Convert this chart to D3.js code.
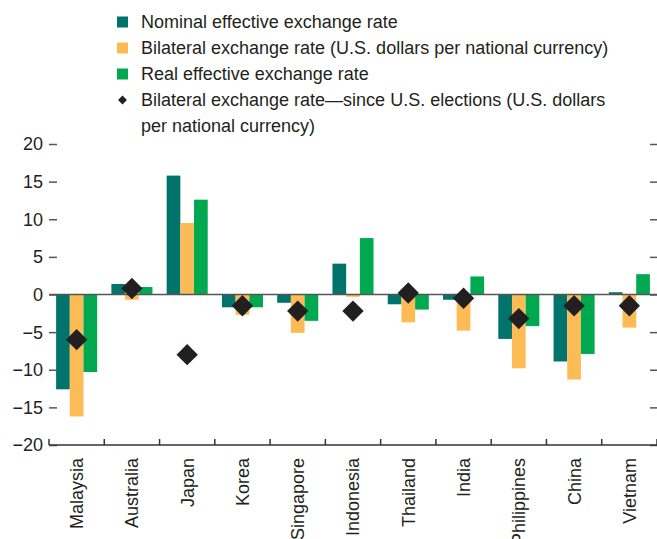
<!DOCTYPE html>
<html>
<head>
<meta charset="utf-8">
<script src="https://cdn.jsdelivr.net/npm/d3@7"></script>
<style>
  body { margin: 0; background: #fff; }
  svg { display: block; }
  text { font-family: "Liberation Sans Narrow", "Arial Narrow", "Liberation Sans", sans-serif; fill: #231f20; }
</style>
</head>
<body>
<div id="chart"></div>
<script>
// data (percent change)
let countries = ["Malaysia", "Australia", "Japan", "Korea", "Singapore", "Indonesia",
    "Thailand", "India", "Philippines", "China", "Vietnam"];
let nominal = [-12.6, 1.4, 15.8, -1.7, -1.1, 4.1, -1.3, -0.7, -5.9, -8.9, 0.3];
let bilateral = [-16.2, -0.7, 9.5, -2.7, -5.1, -0.3, -3.7, -4.8, -9.8, -11.3, -4.4];
let real = [-10.3, 1.0, 12.6, -1.7, -3.5, 7.5, -2.0, 2.4, -4.2, -7.9, 2.7];
let sinceElection = [-6.0, 0.8, -8.0, -1.5, -2.2, -2.2, 0.2, -0.5, -3.2, -1.5, -1.5];
let yTicks = [20, 15, 10, 5, 0, -5, -10, -15, -20];

let seriesNames = ["nominal", "bilateral", "real"];
let seriesValues = { nominal: nominal, bilateral: bilateral, real: real };
let colors = { nominal: "#00736a", bilateral: "#fdbb55", real: "#00a94f" };

let legendItems = [
    { key: "nominal", lines: ["Nominal effective exchange rate"] },
    { key: "bilateral", lines: ["Bilateral exchange rate (U.S. dollars per national currency)"] },
    { key: "real", lines: ["Real effective exchange rate"] },
    { key: "diamond", lines: ["Bilateral exchange rate\u2014since U.S. elections (U.S. dollars", "per national currency)"] }
];

let width = 657, height = 539;
let svg = d3.select("#chart").append("svg")
    .attr("width", width)
    .attr("height", height);

let x = d3.scaleBand().domain(countries).range([49, 657]);
let xs = d3.scaleBand().domain(seriesNames).range([0, x.bandwidth()]).paddingOuter(0.52);
let y = d3.scaleLinear().domain([-20, 20]).range([445, 144]);

let fmt = d => d < 0 ? "\u2212" + Math.abs(d) : String(d);

// left ticks + labels
let yl = svg.append("g").attr("transform", "translate(49,0)")
    .call(d3.axisRight(y).tickValues(yTicks).tickSize(8).tickFormat(""));
yl.select(".domain").remove();
yl.selectAll(".tick line").attr("stroke", "#555").attr("stroke-width", 1.5);
svg.append("g").selectAll("text").data(yTicks.filter(d => d !== -20 || true)).join("text")
    .attr("x", 43)
    .attr("y", d => y(d))
    .attr("dy", "0.36em")
    .attr("text-anchor", "end")
    .attr("font-size", 18)
    .text(fmt);

// right ticks
let yr = svg.append("g").attr("transform", "translate(657,0)")
    .call(d3.axisLeft(y).tickValues(yTicks).tickSize(7).tickFormat(""));
yr.select(".domain").remove();
yr.selectAll(".tick line").attr("stroke", "#555").attr("stroke-width", 1.5);

// bars
let groups = svg.append("g").selectAll("g").data(countries).join("g")
    .attr("transform", d => "translate(" + x(d) + ",0)");
groups.selectAll("rect")
    .data((c, i) => seriesNames.map(s => ({ s: s, v: seriesValues[s][i] })))
    .join("rect")
    .attr("x", d => xs(d.s))
    .attr("width", xs.bandwidth())
    .attr("y", d => y(Math.max(0, d.v)))
    .attr("height", d => Math.abs(y(d.v) - y(0)))
    .attr("fill", d => colors[d.s]);

// zero line
svg.append("line")
    .attr("x1", 49).attr("x2", 657)
    .attr("y1", y(0)).attr("y2", y(0))
    .attr("stroke", "#555").attr("stroke-width", 1.5);

// diamonds
let diamond = d3.symbol().type(d3.symbolDiamond2).size(290);
svg.append("g").selectAll("path").data(sinceElection).join("path")
    .attr("d", diamond)
    .attr("transform", (d, i) => "translate(" + (x(countries[i]) + x.bandwidth() / 2) + "," + y(d) + ")")
    .attr("fill", "#231f20");

// bottom axis
let xa = svg.append("g").attr("transform", "translate(0,445)");
xa.append("line").attr("x1", 49).attr("x2", 657).attr("stroke", "#333").attr("stroke-width", 1.5);
xa.selectAll("line.tk").data(countries.concat(["end"])).join("line")
    .attr("class", "tk")
    .attr("x1", (d, i) => 49 + i * x.bandwidth())
    .attr("x2", (d, i) => 49 + i * x.bandwidth())
    .attr("y1", 0).attr("y2", -6)
    .attr("stroke", "#333").attr("stroke-width", 1.5);
xa.selectAll("text").data(countries).join("text")
    .attr("transform", d => "translate(" + (x(d) + x.bandwidth() / 2) + ",13) rotate(-90)")
    .attr("dy", "0.36em")
    .attr("text-anchor", "end")
    .attr("font-size", 18)
    .text(d => d);

// legend
let lg = svg.append("g").selectAll("g").data(legendItems).join("g")
    .attr("transform", (d, i) => "translate(117," + (22 + i * 26) + ")");
lg.filter(d => d.key !== "diamond").append("rect")
    .attr("x", 0).attr("y", -5.5).attr("width", 11).attr("height", 11)
    .attr("fill", d => colors[d.key]);
lg.filter(d => d.key === "diamond").append("path")
    .attr("d", d3.symbol().type(d3.symbolDiamond2).size(50))
    .attr("transform", "translate(5.5,0)")
    .attr("fill", "#231f20");
lg.selectAll("text").data(d => d.lines).join("text")
    .attr("x", 24)
    .attr("y", (d, i) => i * 26)
    .attr("dy", "0.36em")
    .attr("font-size", 18)
    .text(d => d);
</script>
</body>
</html>
